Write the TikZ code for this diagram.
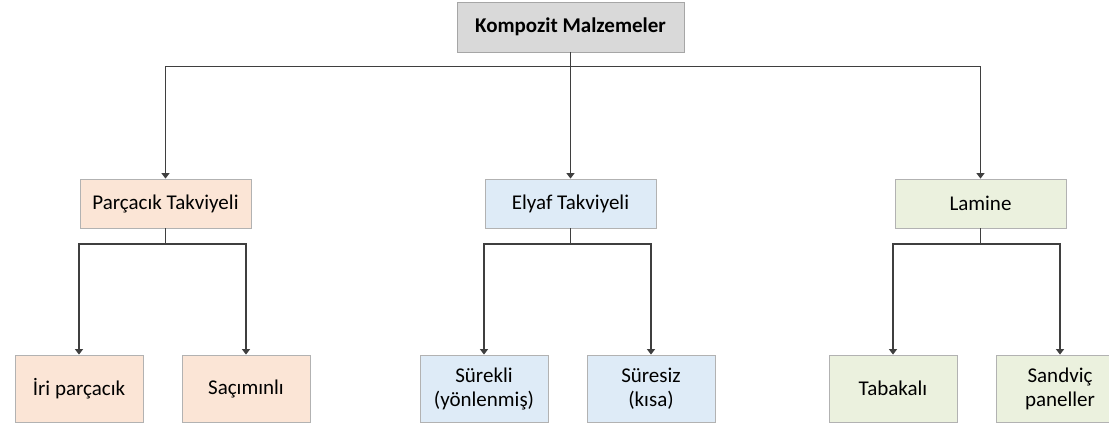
\documentclass[tikz,border=0pt]{standalone}
\usepackage{fontspec}
\setmainfont{Carlito}
\usetikzlibrary{arrows.meta}

\definecolor{kutugri}{HTML}{D9D9D9}
\definecolor{parcacik}{HTML}{FBE5D6}
\definecolor{elyaf}{HTML}{DEEBF7}
\definecolor{lamine}{HTML}{EBF1DE}
\definecolor{cizgi}{HTML}{3F3F3F}

\tikzset{
    kutu/.style={draw=black!30,line width=0.8pt,align=center,inner sep=0pt,
        font=\fontsize{21}{24}\selectfont},
    ana/.style={kutu,fill=kutugri,draw=black!35,minimum width=227,minimum height=50,
        font=\fontsize{21}{24}\selectfont\bfseries},
    orta/.style={kutu,minimum width=171,minimum height=49},
    alt/.style={kutu,minimum width=128,minimum height=67},
    bag/.style={draw=cizgi,line width=1.3pt},
    ok/.style={bag,-{Triangle[width=8pt,length=5.5pt]}}
}

\begin{document}
\begin{tikzpicture}[x=1pt,y=-1pt]
    \useasboundingbox (0,0) rectangle (1109,425);
    %ust kutu
    \node[ana] (kompozit) at (570.5,27) {Kompozit Malzemeler};
    %ikinci seviye
    \node[orta,fill=parcacik] (parcacik) at (165.5,203.5) {Parçacık Takviyeli};
    \node[orta,fill=elyaf] (elyaf) at (570.5,203.5) {Elyaf Takviyeli};
    \node[orta,fill=lamine] (lamine) at (980.5,203.5) {Lamine};
    %ucuncu seviye
    \node[alt,fill=parcacik] (iri) at (79,388.5) {İri parçacık};
    \node[alt,fill=parcacik] (sacimli) at (246,388.5) {Saçımınlı};
    \node[alt,fill=elyaf] (surekli) at (484,388.5) {Sürekli\\(yönlenmiş)};
    \node[alt,fill=elyaf] (suresiz) at (651,388.5) {Süresiz\\(kısa)};
    \node[alt,fill=lamine] (tabakali) at (893,388.5) {Tabakalı};
    \node[alt,fill=lamine] (sandvic) at (1060,388.5) {Sandviç\\paneller};

    %dallanma noktalari
    \coordinate (d0) at (570.5,66.7);
    \coordinate (d1) at (165.5,244);
    \coordinate (d2) at (570.5,244);
    \coordinate (d3) at (980.5,244);

    \draw[bag] (kompozit.south) -- (d0);
    \draw[ok] (d0) -| (parcacik.north);
    \draw[ok] (d0) -- (elyaf.north);
    \draw[ok] (d0) -| (lamine.north);

    \draw[bag] (parcacik.south) -- (d1);
    \draw[ok] (d1) -| (iri.north);
    \draw[ok] (d1) -| (sacimli.north);

    \draw[bag] (elyaf.south) -- (d2);
    \draw[ok] (d2) -| (surekli.north);
    \draw[ok] (d2) -| (suresiz.north);

    \draw[bag] (lamine.south) -- (d3);
    \draw[ok] (d3) -| (tabakali.north);
    \draw[ok] (d3) -| (sandvic.north);
\end{tikzpicture}
\end{document}
